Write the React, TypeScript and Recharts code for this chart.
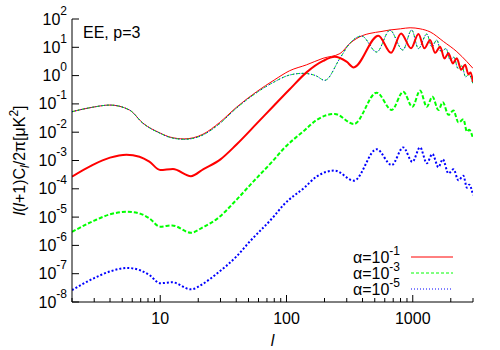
import { LineChart, Line, XAxis, YAxis, Legend } from 'recharts';

// multipoles l and l(l+1)C_l/2pi [muK^2]

// thin lines: total EE for each alpha
const ellTotA1 = [2, 2.9, 4, 5.7, 7.3, 10, 12, 15.5, 21.8, 29.5, 40, 58, 80, 106, 144, 195, 265, 318, 400, 458, 560, 661, 800, 953, 1143, 1372, 1750, 2234, 2686, 3000];
const eeTotA1 = [0.053, 0.076, 0.091, 0.061, 0.0208, 0.0093, 0.0067, 0.0058, 0.0085, 0.022, 0.075, 0.27, 0.7, 1.49, 2.4, 4.1, 6, 13.8, 26, 31, 36, 41, 45, 49, 45, 35, 16, 7, 3.1, 1.8];

const ellTot = [2, 2.9, 4, 5.7, 7.3, 10, 12, 15.5, 21.8, 29.5, 40, 58, 80, 106, 135, 170, 201, 265, 318, 394, 518, 660, 834, 981, 1109, 1292, 1416, 1550, 1678, 1837, 1980, 2120, 2280, 2450, 2620, 2780, 3000];
const eeTotA3 = [0.053, 0.076, 0.091, 0.061, 0.0206, 0.0091, 0.0065, 0.0056, 0.008, 0.02, 0.07, 0.25, 0.6, 1.05, 1.2, 1.0, 0.68, 4.1, 14, 25, 6.8, 40, 8, 41, 9, 29.5, 10.5, 18, 7, 9, 3.5, 4.5, 1.8, 2.2, 0.9, 1.1, 0.5];
const eeTotA5 = [0.053, 0.076, 0.091, 0.061, 0.0206, 0.0091, 0.0065, 0.0056, 0.008, 0.02, 0.07, 0.25, 0.6, 1.05, 1.2, 1.0, 0.68, 4.1, 14, 25, 6.8, 40, 8, 41, 9, 29.5, 10.5, 18, 7, 9, 3.5, 4.5, 1.8, 2.2, 0.9, 1.1, 0.5];

// thick lines: the alpha contribution alone
const ellIsoA1 = [2, 2.9, 4, 5.4, 6.85, 8.2, 10, 12.6, 17.5, 22, 30, 40, 58, 80, 106, 144, 195, 241, 299, 340, 534, 673, 808, 970, 1109, 1237, 1372, 1503, 1648, 1782, 1918, 2076, 2234, 2416, 2600, 2762, 2870, 3000];
const eeIsoA1 = [2.7e-4, 6.9e-4, 1.26e-3, 1.6e-3, 1.36e-3, 9.1e-4, 4.6e-4, 5e-4, 2.8e-4, 5e-4, 1.1e-3, 3.6e-3, 0.02, 0.09, 0.33, 1.3, 3.3, 4.6, 3.1, 1.95, 25.7, 6.4, 31, 9.2, 29.5, 9.2, 18, 6.4, 10.5, 4, 6.2, 2.7, 4.1, 1.6, 2.4, 1.1, 1.3, 0.6];

const ellIso = [2, 3, 4, 5.5, 7, 8.2, 10, 12.4, 17.5, 22, 28, 40, 51, 80, 94, 140, 173, 241, 342, 518, 681, 841, 993, 1143, 1292, 1431, 1597, 1729, 1918, 2100, 2301, 2518, 2686, 2800, 3000];
const eeIsoA3 = [3e-6, 7.5e-6, 1.25e-5, 1.55e-5, 1.3e-5, 9e-6, 4.6e-6, 5.1e-6, 2.8e-6, 4.5e-6, 8.5e-6, 4e-5, 1.3e-4, 1.1e-3, 2.5e-3, 0.012, 0.027, 0.044, 0.0195, 0.25, 0.061, 0.27, 0.079, 0.295, 0.079, 0.18, 0.061, 0.115, 0.041, 0.058, 0.022, 0.0285, 0.0105, 0.0122, 0.006];
const eeIsoA5 = [2.65e-8, 7e-8, 1.2e-7, 1.6e-7, 1.3e-7, 9e-8, 4.6e-8, 5e-8, 2.8e-8, 4.5e-8, 1e-7, 4e-7, 1.35e-6, 1.1e-5, 2.6e-5, 1.15e-4, 2.7e-4, 4.4e-4, 1.94e-4, 2.5e-3, 6.9e-4, 2.9e-3, 9e-4, 2.9e-3, 8e-4, 1.7e-3, 5.8e-4, 1.1e-3, 3.5e-4, 4.9e-4, 2e-4, 2.9e-4, 1.1e-4, 1.4e-4, 6e-5];

const xLabelTicks = [10, 100, 1000];
const xMinorTicks = [2, 3, 4, 5, 6, 7, 8, 9, 20, 30, 40, 50, 60, 70, 80, 90, 200, 300, 400, 500, 600, 700, 800, 900, 2000, 3000];
const yTickExps = [2, 1, 0, -1, -2, -3, -4, -5, -6, -7, -8];
const alphaExps = ['-1', '-3', '-5'];

const FONT = '"Liberation Sans", Arial, Helvetica, sans-serif';

const xTicks = [...xMinorTicks, ...xLabelTicks].sort((a, b) => a - b);
const yTicks = yTickExps.map((e) => Math.pow(10, e));

const pts = (ells: number[], vals: number[]) => ells.map((l, i) => ({ l, v: vals[i] }));

function BottomTick({ x, y, payload }: any) {
  const major = xLabelTicks.includes(payload.value);
  return (
    <g>
      <line x1={x} y1={y} x2={x} y2={y - (major ? 7 : 4)} stroke="#000" />
      {major && (
        <text x={x} y={y + 22} textAnchor="middle" fontSize={16} fill="#000">
          {payload.value}
        </text>
      )}
    </g>
  );
}

function TopTick({ x, y, payload }: any) {
  const major = xLabelTicks.includes(payload.value);
  return <line x1={x} y1={y} x2={x} y2={y + (major ? 7 : 4)} stroke="#000" />;
}

function LeftTick({ x, y, payload }: any) {
  const exp = Math.round(Math.log10(payload.value));
  return (
    <g>
      <line x1={x} y1={y} x2={x + 7} y2={y} stroke="#000" />
      <text x={x - 5} y={y + 5.5} textAnchor="end" fontSize={16} fill="#000">
        10<tspan dy={-10} fontSize={12}>{exp}</tspan>
      </text>
    </g>
  );
}

function RightTick({ x, y }: any) {
  return <line x1={x} y1={y} x2={x - 7} y2={y} stroke="#000" />;
}

function XTitle({ viewBox }: any) {
  const cx = viewBox ? viewBox.x + viewBox.width / 2 : 272;
  const by = viewBox ? viewBox.y + viewBox.height - 4 : 346;
  return (
    <text x={cx} y={by} textAnchor="middle" fontSize={16} fontStyle="italic" fill="#000">
      l
    </text>
  );
}

function YTitle({ viewBox }: any) {
  const cy = viewBox ? viewBox.y + viewBox.height / 2 : 160;
  return (
    <text transform={`translate(25, ${cy}) rotate(-90)`} textAnchor="middle" fontSize={16} fill="#000">
      <tspan fontStyle="italic">l</tspan>(<tspan fontStyle="italic">l</tspan>+1)C
      <tspan fontStyle="italic" fontSize={12} dy={4}>l</tspan>
      <tspan dy={-4}>/2π[μK</tspan>
      <tspan fontSize={12} dy={-7}>2</tspan>
      <tspan dy={7}>]</tspan>
    </text>
  );
}

function AlphaLegend({ payload }: any) {
  const rows = (payload || []).filter((p: any) => p.type !== 'none');
  return (
    <svg width={130} height={50} style={{ overflow: 'visible' }}>
      {rows.map((p: any, i: number) => (
        <g key={p.value} transform={`translate(0, ${8 + 16 * i})`}>
          <text x={60} y={6} textAnchor="end" fontSize={16} fill="#000">
            α=10<tspan dy={-8} fontSize={12}>{p.value}</tspan>
          </text>
          <line x1={71} x2={113} y1={0} y2={0} stroke={p.color} strokeDasharray={p.payload?.strokeDasharray} />
        </g>
      ))}
    </svg>
  );
}

export default function App() {
  return (
    <div style={{ width: 500, height: 350, fontFamily: FONT, background: '#fff' }}>
      <style>{'body{margin:0}'}</style>
      <LineChart width={500} height={350} margin={{ top: 19, right: 27, bottom: 0, left: 0 }} style={{ fontFamily: FONT }}>
        <XAxis
          dataKey="l"
          type="number"
          scale="log"
          domain={[2, 3000]}
          allowDataOverflow
          ticks={xTicks}
          interval={0}
          tickSize={0}
          tickMargin={0}
          tickLine={false}
          tick={<BottomTick />}
          height={48}
          axisLine={{ stroke: '#000' }}
          label={<XTitle />}
        />
        <XAxis
          xAxisId="top"
          orientation="top"
          dataKey="l"
          type="number"
          scale="log"
          domain={[2, 3000]}
          allowDataOverflow
          ticks={xTicks}
          interval={0}
          tickSize={0}
          tickMargin={0}
          tickLine={false}
          tick={<TopTick />}
          height={0}
          axisLine={{ stroke: '#000' }}
        />
        <YAxis
          type="number"
          scale="log"
          domain={[1e-8, 100]}
          allowDataOverflow
          ticks={yTicks}
          interval={0}
          tickSize={0}
          tickMargin={0}
          tickLine={false}
          tick={<LeftTick />}
          width={72}
          axisLine={{ stroke: '#000' }}
          label={<YTitle />}
        />
        <YAxis
          yAxisId="right"
          orientation="right"
          type="number"
          scale="log"
          domain={[1e-8, 100]}
          allowDataOverflow
          ticks={yTicks}
          interval={0}
          tickSize={0}
          tickMargin={0}
          tickLine={false}
          tick={<RightTick />}
          width={0}
          axisLine={{ stroke: '#000' }}
        />

        <Line name={alphaExps[0]} data={pts(ellTotA1, eeTotA1)} dataKey="v" type="monotone" stroke="#ff0000" strokeWidth={1} dot={false} isAnimationActive={false} />
        <Line name={alphaExps[1]} data={pts(ellTot, eeTotA3)} dataKey="v" type="monotone" stroke="#00ff00" strokeWidth={1} strokeDasharray="3 2" dot={false} isAnimationActive={false} />
        <Line name={alphaExps[2]} data={pts(ellTot, eeTotA5)} dataKey="v" type="monotone" stroke="#0000ff" strokeWidth={1} strokeDasharray="1 2" dot={false} isAnimationActive={false} />

        <Line name="iso-1" legendType="none" data={pts(ellIsoA1, eeIsoA1)} dataKey="v" type="monotone" stroke="#ff0000" strokeWidth={2} dot={false} isAnimationActive={false} />
        <Line name="iso-3" legendType="none" data={pts(ellIso, eeIsoA3)} dataKey="v" type="monotone" stroke="#00ff00" strokeWidth={2} strokeDasharray="4 2" dot={false} isAnimationActive={false} />
        <Line name="iso-5" legendType="none" data={pts(ellIso, eeIsoA5)} dataKey="v" type="monotone" stroke="#0000ff" strokeWidth={2} strokeDasharray="2 2" dot={false} isAnimationActive={false} />

        <Legend
          layout="vertical"
          align="center"
          verticalAlign="middle"
          content={<AlphaLegend />}
          wrapperStyle={{ left: 340, top: 249, width: 130, height: 50 }}
        />

        <text x={83} y={38} fontSize={16} fill="#000">EE, p=3</text>
      </LineChart>
    </div>
  );
}
